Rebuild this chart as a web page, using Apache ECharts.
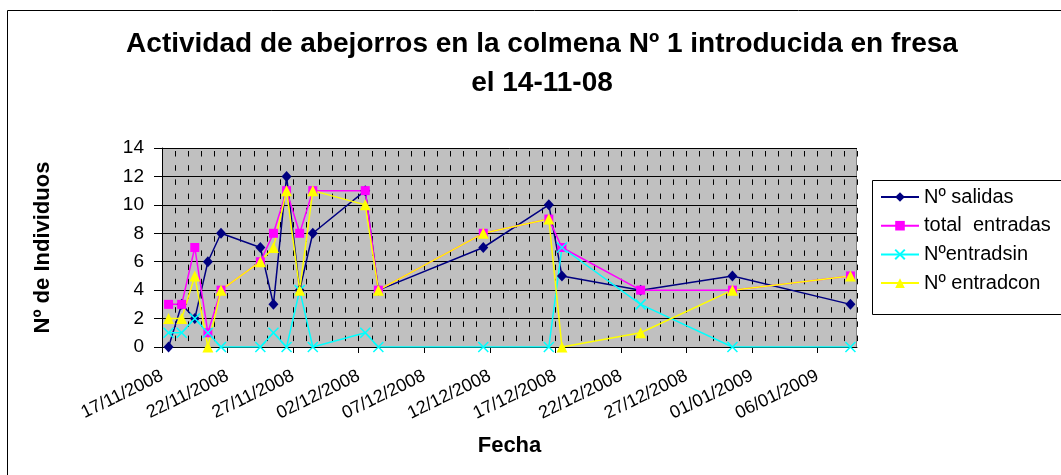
<!DOCTYPE html>
<html><head><meta charset="utf-8">
<script src="https://cdn.jsdelivr.net/npm/echarts@6/dist/echarts.min.js"></script>
<style>html,body{margin:0;padding:0;background:#fff}#c{width:1061px;height:475px}</style>
</head><body><div id="c"></div>
<script>
// ---- Data ----
const fechas = ['17/11/2008','18/11/2008','19/11/2008','20/11/2008','21/11/2008','24/11/2008','25/11/2008','26/11/2008','27/11/2008','28/11/2008','02/12/2008','03/12/2008','11/12/2008','16/12/2008','17/12/2008','23/12/2008','30/12/2008','08/01/2009'];
const salidas       = [0,3,2,6,8,7,3,12,4,8,11,4,7,10,5,4,5,3];
const totalEntradas = [3,3,7,1,4,6,8,11,8,11,11,4,8,9,7,4,4,5];
const entradsin     = [1,1,2,1,0,0,1,0,4,0,1,0,0,0,7,3,0,0];
const entradcon     = [2,2,5,0,4,6,7,11,4,11,10,4,8,9,0,1,4,5];
const etiquetasX = ['17/11/2008','22/11/2008','27/11/2008','02/12/2008','07/12/2008','12/12/2008','17/12/2008','22/12/2008','27/12/2008','01/01/2009','06/01/2009'];
const fechaInicio = '17/11/2008';
const fechaFin = '09/01/2009';
const yMin = 0, yMax = 14, yPaso = 2;

const FONT = '"Liberation Sans", Arial, sans-serif';
function dia(s){ const [d,m,y]=s.split('/').map(Number); const [d0,m0,y0]=fechaInicio.split('/').map(Number);
  return Math.round((Date.UTC(y,m-1,d)-Date.UTC(y0,m0-1,d0))/86400000); }
// Excel date axis: each point sits in the middle of its day slot
const pares = vals => fechas.map((f,i)=>[dia(f)+0.5, vals[i]]);
const diasEtiqueta = etiquetasX.map(dia);
const mapaEtiqueta = {}; etiquetasX.forEach(e=>{ mapaEtiqueta[dia(e)] = e; });
const xMax = dia(fechaFin);

const chart = echarts.init(document.getElementById('c'), null, {renderer:'canvas'});
const serie = (name, vals, color, symbol, size, extra) => Object.assign({
  name, type:'line', data: pares(vals), xAxisIndex:0, yAxisIndex:0,
  symbol, symbolSize:size, showAllSymbol:true, z:5,
  lineStyle:{color, width:1.5}, itemStyle:{color}, emphasis:{disabled:true}, animation:false
}, extra||{});

chart.setOption({
  animation:false,
  textStyle:{fontFamily:FONT},
  title:{
    text:'Actividad de abejorros en la colmena Nº 1 introducida en fresa\nel 14-11-08',
    left:537, top:20, textAlign:'center',
    textStyle:{fontSize:28, fontWeight:'bold', color:'#000', lineHeight:39, fontFamily:FONT}
  },
  grid:{left:162, top:148, width:695, height:199, show:false, containLabel:false},
  legend:{
    orient:'vertical', left:880, top:187, padding:0, itemGap:8.7, itemWidth:38, itemHeight:12,
    textStyle:{fontSize:20, color:'#000', lineHeight:20, fontFamily:FONT},
    data:['Nº salidas','total  entradas','Nºentradsin','Nº entradcon']
  },
  graphic:[
    {type:'rect', shape:{x:7.5, y:10.5, width:1100, height:500}, style:{fill:null, stroke:'#000', lineWidth:1}, silent:true, z:-10},
    {type:'rect', shape:{x:162.5, y:148.5, width:694, height:199}, style:{fill:'#C0C0C0', stroke:'#808080', lineWidth:1}, silent:true, z:-5},
    {type:'rect', shape:{x:872.5, y:180.5, width:300, height:134}, style:{fill:null, stroke:'#000', lineWidth:1}, silent:true}
  ],
  xAxis:[
    {type:'value', min:0, max:xMax, interval:5, position:'bottom', z:2,
     name:'Fecha', nameLocation:'middle', nameGap:88,
     nameTextStyle:{fontSize:22, fontWeight:'bold', color:'#000', fontFamily:FONT},
     axisLine:{show:true, lineStyle:{color:'#000', width:1}},
     axisTick:{show:true, length:6, lineStyle:{color:'#000'}, customValues:diasEtiqueta},
     axisLabel:{show:true, rotate:26, fontSize:18, color:'#000', margin:28, customValues:diasEtiqueta,
       formatter:v=>mapaEtiqueta[Math.round(v)]||''},
     splitLine:{show:false}},
    {type:'value', min:0, max:xMax, interval:1, position:'bottom', z:1,
     axisLine:{show:false}, axisTick:{show:false}, axisLabel:{show:true, formatter:()=>''},
     splitLine:{show:true, lineStyle:{color:'#000', width:1, type:[5.5,8.7], dashOffset:11.2}}}
  ],
  yAxis:{type:'value', min:yMin, max:yMax, interval:yPaso, z:1,
    name:'Nº de Individuos', nameLocation:'middle', nameGap:108, nameRotate:90,
    nameTextStyle:{fontSize:22, fontWeight:'bold', color:'#000', fontFamily:FONT},
    axisLine:{show:true, lineStyle:{color:'#000', width:1}},
    axisTick:{show:true, length:8, lineStyle:{color:'#000'}},
    axisLabel:{fontSize:19, color:'#000', margin:18},
    splitLine:{show:true, lineStyle:{color:'#000', width:1}}},
  series:[
    serie('Nº salidas', salidas, '#000080', 'diamond', [10,11]),
    serie('total  entradas', totalEntradas, '#FF00FF', 'rect', 9),
    serie('Nºentradsin', entradsin, '#00FFFF', 'path://M0,0L10,10M10,0L0,10', 10,
      {itemStyle:{color:'#00FFFF', borderColor:'#00FFFF', borderWidth:1.5}}),
    serie('Nº entradcon', entradcon, '#FFFF00', 'triangle', 11)
  ]
});
</script></body></html>
